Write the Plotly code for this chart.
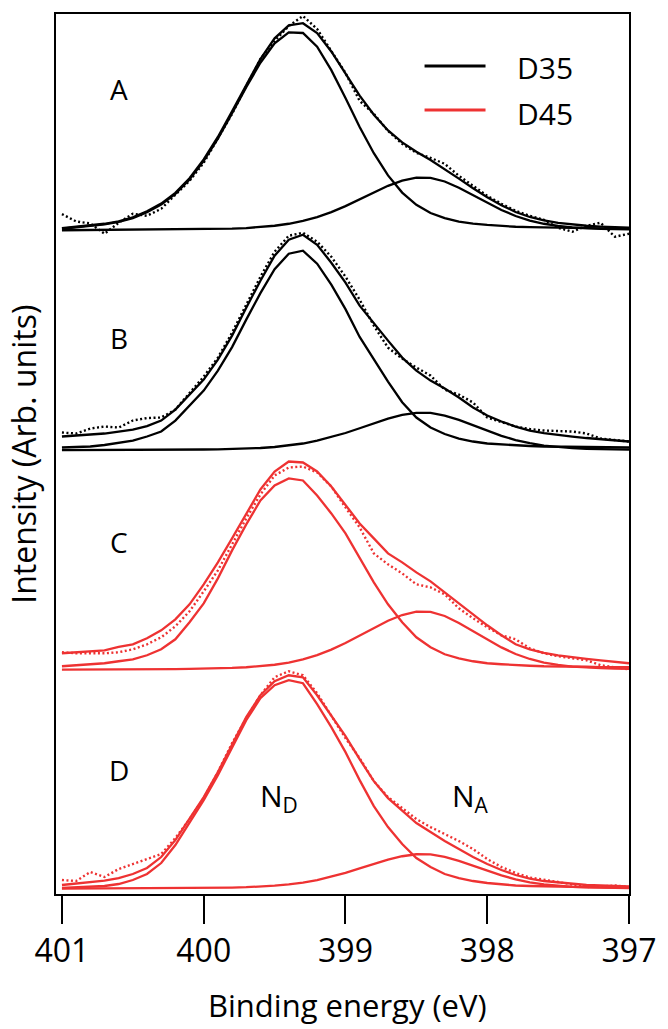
import plotly.graph_objects as go

# Binding energy grid (eV)
energy_ev = [401.0, 400.9, 400.8, 400.7, 400.6, 400.5, 400.4, 400.3, 400.2, 400.1,
             400.0, 399.9, 399.8, 399.7, 399.6, 399.5, 399.4, 399.3, 399.2, 399.1,
             399.0, 398.9, 398.8, 398.7, 398.6, 398.5, 398.4, 398.3, 398.2, 398.1,
             398.0, 397.9, 397.8, 397.7, 397.6, 397.5, 397.4, 397.3, 397.2, 397.1, 397.0]

# Panel A (D35) - intensities above panel baseline (arb. units)
nd_a = [2.0, 3.4, 4.9, 6.3, 8.8, 12.6, 18.6, 26.2, 36.8, 51.4,
        70.0, 92.2, 117.6, 143.8, 168.2, 187.6, 198.6, 198.0, 184.2, 160.8,
        132.8, 103.8, 77.6, 55.4, 38.2, 26.0, 17.8, 12.6, 9.2, 7.1,
        5.8, 4.8, 4.0, 3.6, 3.4, 3.0, 2.8, 2.5, 2.3, 2.1, 1.9]
na_a = [0.5, 0.6, 0.6, 0.7, 0.7, 0.8, 0.9, 1.0, 1.1, 1.2,
        1.4, 1.7, 2.1, 2.7, 3.6, 5.0, 7.0, 9.8, 13.7, 18.7,
        24.7, 31.5, 38.5, 45.0, 50.2, 53.1, 53.0, 49.3, 43.0, 35.5,
        27.8, 20.8, 14.8, 10.2, 7.0, 4.8, 3.4, 2.5, 1.9, 1.6, 1.3]
env_a = [2.5, 4.0, 5.5, 7.0, 9.5, 13.4, 19.5, 27.2, 37.9, 52.6,
         71.4, 93.9, 119.7, 146.5, 171.8, 192.6, 205.6, 207.8, 197.9, 179.5,
         157.5, 135.3, 116.1, 100.4, 88.4, 79.1, 70.8, 61.9, 52.2, 42.6,
         33.6, 25.6, 18.8, 13.8, 10.4, 7.8, 6.2, 5.0, 4.2, 3.7, 3.2]
data_a = [16.7, 9.3, 7.3, -3.0, 8.0, 17.0, 15.0, 22.0, 36.0, 50.0,
          68.0, 92.0, 117.0, 145.0, 172.0, 190.0, 205.0, 215.0, 202.0, 180.0,
          158.0, 130.0, 117.0, 100.0, 87.0, 78.0, 73.0, 67.0, 55.0, 45.0,
          35.0, 27.0, 20.0, 15.0, 11.0, 3.0, -1.0, 5.0, 8.0, -6.0, -3.0]

# Panel B (D35)
nd_b = [3.0, 3.6, 4.0, 5.5, 8.0, 10.0, 14.0, 19.0, 30.0, 45.0,
        60.0, 80.0, 103.5, 131.0, 157.5, 181.5, 197.0, 200.0, 187.0, 166.0,
        141.5, 113.7, 90.7, 69.0, 48.4, 33.0, 23.0, 16.5, 12.0, 9.0,
        7.0, 6.0, 5.0, 4.5, 4.0, 3.8, 3.6, 3.4, 3.3, 3.2, 3.0]
na_b = [0.4, 0.4, 0.5, 0.5, 0.5, 0.6, 0.6, 0.7, 0.8, 0.9,
        1.0, 1.2, 1.5, 1.9, 2.5, 3.5, 5.0, 7.0, 9.8, 13.3,
        17.5, 22.3, 27.3, 32.0, 35.6, 37.7, 37.6, 35.0, 30.6, 25.2,
        19.7, 14.7, 10.5, 7.3, 4.9, 3.4, 2.4, 1.7, 1.3, 1.1, 0.9]
env_b = [14, 15, 15.5, 17, 19, 21, 24.5, 30, 41, 56,
         71, 91, 115, 143, 170, 195, 211, 216, 206, 188,
         168, 145, 127, 110, 93, 80, 70, 62, 53, 43,
         35, 29, 24, 20, 17.5, 15.5, 14, 12.5, 11.5, 10, 9]
data_b = [18, 17, 22, 24, 23, 30, 32.5, 33, 41, 57,
          74, 93, 118, 146, 174, 199, 215, 218, 209, 194,
          174, 151, 125, 103, 92, 83, 75, 61, 56, 48,
          33, 28.5, 24, 21.5, 20, 19.5, 19, 17, 12, 10.5, 9]

# Panel C (D45)
nd_c = [4, 5, 6, 7, 9, 11, 15, 21, 31, 48,
        67, 92, 120, 146, 170, 185, 192, 190, 175, 157,
        137, 113, 88, 66, 48, 33, 23, 16, 12, 9,
        7, 6, 5, 4.5, 4, 4, 3.5, 3.5, 3, 3, 3]
na_c = [0.6, 0.6, 0.7, 0.8, 0.8, 0.9, 1.0, 1.1, 1.2, 1.4,
        1.6, 1.9, 2.3, 3.0, 4.0, 5.5, 7.7, 10.9, 15.2, 20.7,
        27.2, 34.7, 42.4, 49.6, 55.3, 58.6, 58.4, 54.3, 47.4, 39.2,
        30.6, 22.9, 16.3, 11.3, 7.7, 5.3, 3.7, 2.7, 2.1, 1.7, 1.4]
env_c = [17, 18, 19, 20, 23.5, 26, 32, 40, 51, 66,
         86, 108, 132, 157, 181, 199, 209, 208, 199, 184,
         165, 147, 132, 117, 108, 98, 89, 78, 67, 56,
         45, 35, 26, 21, 17.5, 15, 13, 11.5, 10, 8.5, 7]
data_c = [18, 17, 17, 17, 18, 21, 26, 33, 44, 59,
          79, 100, 126, 152, 176, 195, 203, 204, 198, 184,
          163, 143, 117, 106, 97, 86, 83, 76, 62, 52,
          43, 35, 31, 22, 17, 14, 12, 10, 5, 3, 1]

# Panel D (D45)
nd_d = [1, 1.5, 2, 3, 5, 9, 15, 26, 44, 66,
        89, 114, 142, 169, 191, 204, 209, 206, 185, 162,
        137, 109, 83, 62, 45, 31, 22, 15, 11, 8,
        6, 4.5, 3.5, 3, 2.7, 2.5, 2.2, 2, 1.8, 1.5, 1.2]
na_d = [0.35, 0.4, 0.4, 0.5, 0.5, 0.5, 0.6, 0.6, 0.7, 0.8,
        0.9, 1.1, 1.4, 1.8, 2.3, 3.3, 4.6, 6.4, 9.0, 12.3,
        16.1, 20.6, 25.2, 29.4, 32.8, 34.8, 34.7, 32.2, 28.1, 23.2,
        18.2, 13.6, 9.7, 6.7, 4.6, 3.1, 2.2, 1.6, 1.2, 1.0, 0.8]
env_d = [4, 5.5, 7, 8.5, 11, 15, 21, 32, 49, 70,
         92, 117, 145, 172, 194, 208, 214, 212, 194, 174,
         153, 130, 108, 91, 78, 66, 57, 48, 40, 32,
         25, 19, 14, 10.5, 8, 6.5, 5, 4, 3.5, 3, 2.5]
data_d = [9, 8, 17, 12, 20, 25, 30, 35, 51, 70,
          91, 117, 146, 171, 194, 212, 218, 214, 196, 173,
          151, 131, 108, 92, 81, 70, 62, 55, 48, 40,
          30, 22, 16, 11.5, 9.5, 7, 4.5, 2, 2.5, 3.5, 2]

panel_names = ["A", "B", "C", "D"]
panel_samples = ["D35", "D35", "D45", "D45"]
panel_offsets = [664, 444, 224, 5]          # vertical stacking offsets
tick_vals = [401, 400, 399, 398, 397]
tick_text = ["401", "400", "399", "398", "397"]
legend_labels = ["D35", "D45"]

sample_color = {"D35": "#000000", "D45": "#ee3232"}
FONT = "Open Sans"

panels = [
    (nd_a, na_a, env_a, data_a),
    (nd_b, na_b, env_b, data_b),
    (nd_c, na_c, env_c, data_c),
    (nd_d, na_d, env_d, data_d),
]

fig = go.Figure()
for (nd, na, env, dat), off, samp in zip(panels, panel_offsets, panel_samples):
    col = sample_color[samp]
    fig.add_trace(go.Scatter(x=energy_ev, y=[v + off for v in dat], mode="lines",
                             line=dict(color=col, width=2.4, dash="2px,2.5px"),
                             showlegend=False, hoverinfo="skip"))
    for comp in (na, nd, env):
        fig.add_trace(go.Scatter(x=energy_ev, y=[v + off for v in comp], mode="lines",
                                 line=dict(color=col, width=2.3),
                                 showlegend=False, hoverinfo="skip"))

annotations = []
# panel letters
label_x = 400.60
label_y = [806, 557, 352, 124]
for name, ly in zip(panel_names, label_y):
    annotations.append(dict(x=label_x, y=ly, xref="x", yref="y", text=name,
                            showarrow=False, xanchor="center", yanchor="middle",
                            font=dict(family=FONT, size=28, color="black")))
# component labels
annotations.append(dict(x=399.47, y=97, xref="x", yref="y", text="N<sub>D</sub>",
                        showarrow=False, xanchor="center", yanchor="middle",
                        font=dict(family=FONT, size=30, color="black")))
annotations.append(dict(x=398.12, y=97, xref="x", yref="y", text="N<sub>A</sub>",
                        showarrow=False, xanchor="center", yanchor="middle",
                        font=dict(family=FONT, size=30, color="black")))
# legend text
for lab, ypos in zip(legend_labels, [0.9387, 0.8871]):
    annotations.append(dict(x=0.8010, y=ypos, xref="paper", yref="paper", text=lab,
                            showarrow=False, xanchor="left", yanchor="middle",
                            font=dict(family=FONT, size=30, color="black")))
# axis titles
annotations.append(dict(x=-0.0580, y=0.5, xref="paper", yref="paper",
                        text="Intensity (Arb. units)", textangle=-90,
                        showarrow=False, xanchor="center", yanchor="middle",
                        font=dict(family=FONT, size=32, color="black")))
annotations.append(dict(x=0.5086, y=-0.1260, xref="paper", yref="paper",
                        text="Binding energy (eV)",
                        showarrow=False, xanchor="center", yanchor="middle",
                        font=dict(family=FONT, size=31, color="black")))

shapes = []
for lab, ypos in zip(legend_labels, [0.9410, 0.8910]):
    shapes.append(dict(type="line", xref="paper", yref="paper",
                       x0=0.6432, x1=0.7496, y0=ypos, y1=ypos,
                       line=dict(color=sample_color[lab], width=3)))

fig.update_layout(
    width=668, height=1029,
    margin=dict(l=56, r=29, t=13, b=135),
    paper_bgcolor="white", plot_bgcolor="white",
    showlegend=False,
    annotations=annotations,
    shapes=shapes,
    font=dict(family=FONT, color="black"),
)
fig.update_xaxes(range=[401.042, 397.0], autorange=False,
                 tickmode="array", tickvals=tick_vals, ticktext=tick_text,
                 ticks="outside", ticklen=28, tickwidth=2, tickcolor="black",
                 showline=True, linecolor="black", linewidth=2, mirror=True,
                 showgrid=False, zeroline=False,
                 tickfont=dict(family=FONT, size=32, color="black"))
fig.update_yaxes(range=[0, 881], autorange=False,
                 showticklabels=False, ticks="",
                 showline=True, linecolor="black", linewidth=2, mirror=True,
                 showgrid=False, zeroline=False)

fig.write_html("out.html")
